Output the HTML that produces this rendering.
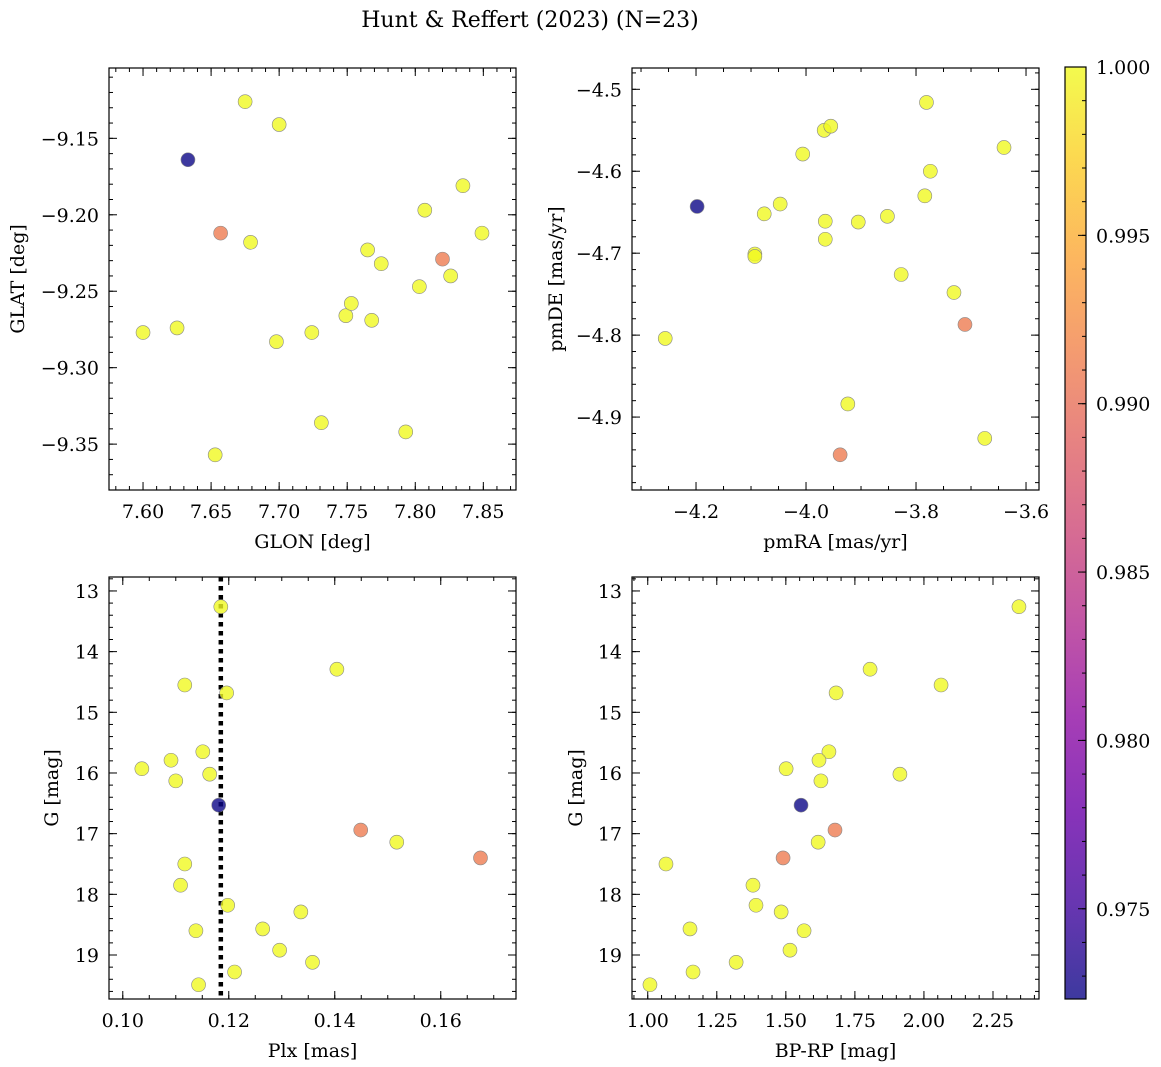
<!DOCTYPE html>
<html><head><meta charset="utf-8"><style>
body{margin:0;background:#fff;}
svg{display:block;font-family:"DejaVu Serif","Liberation Serif",serif;}
</style></head><body>
<svg id="fig" width="1161" height="1067" viewBox="0 0 1161 1067" xmlns="http://www.w3.org/2000/svg">
<defs>
<linearGradient id="plasma" x1="0" y1="1" x2="0" y2="0">
<stop offset="0" stop-color="#0d0887"/><stop offset="0.1" stop-color="#41049d"/><stop offset="0.2" stop-color="#6a00a8"/><stop offset="0.3" stop-color="#8f0da4"/><stop offset="0.4" stop-color="#b12a90"/><stop offset="0.5" stop-color="#cc4778"/><stop offset="0.6" stop-color="#e16462"/><stop offset="0.7" stop-color="#f2844b"/><stop offset="0.8" stop-color="#fca636"/><stop offset="0.9" stop-color="#fcce25"/><stop offset="1" stop-color="#f0f921"/>
</linearGradient>
</defs>
<text x="530" y="27" font-size="22" text-anchor="middle">Hunt &amp; Reffert (2023) (N=23)</text>
</svg>
<script>
const prob=[0.9723,1,1,0.991,1,1,1,1,1,1,1,1,1,1,1,1,1,1,1,0.991,1,1,1];
const glon=[7.633,7.675,7.700,7.657,7.679,7.600,7.625,7.698,7.724,7.731,7.653,7.749,7.753,7.765,7.768,7.775,7.793,7.803,7.807,7.820,7.826,7.835,7.849];
const glat=[-9.164,-9.126,-9.141,-9.212,-9.218,-9.277,-9.274,-9.283,-9.277,-9.336,-9.357,-9.266,-9.258,-9.223,-9.269,-9.232,-9.342,-9.247,-9.197,-9.229,-9.240,-9.181,-9.212];
const prob2=[0.9723,1,1,1,1,1,1,1,1,1,1,1,1,1,1,1,1,1,1,1,1,0.991,0.991];
const pmra=[-4.198,-3.781,-3.967,-3.955,-4.006,-3.640,-3.774,-4.047,-4.076,-3.784,-3.852,-3.965,-3.905,-3.965,-4.093,-4.093,-3.827,-3.731,-4.256,-3.924,-3.675,-3.711,-3.938];
const pmde=[-4.643,-4.516,-4.550,-4.545,-4.579,-4.571,-4.600,-4.640,-4.652,-4.630,-4.655,-4.661,-4.662,-4.683,-4.701,-4.704,-4.726,-4.748,-4.804,-4.884,-4.926,-4.787,-4.946];
const prob3=[1,1,1,1,1,1,1,1,1,0.9723,0.991,1,0.991,1,1,1,1,1,1,1,1,1,1];
const plx=[0.1185,0.1404,0.1117,0.1196,0.1151,0.1091,0.1036,0.1100,0.1164,0.1181,0.1449,0.1517,0.1675,0.1117,0.1109,0.1198,0.1336,0.1264,0.1138,0.1296,0.1358,0.1211,0.1143];
const gmag=[13.26,14.29,14.55,14.68,15.65,15.79,15.93,16.13,16.02,16.53,16.94,17.14,17.40,17.50,17.85,18.18,18.29,18.57,18.60,18.92,19.12,19.28,19.49];
const bprp=[2.344,1.805,2.062,1.682,1.656,1.620,1.501,1.627,1.913,1.555,1.678,1.617,1.490,1.066,1.381,1.392,1.483,1.153,1.566,1.515,1.320,1.164,1.008];
const plxLine=[0.1185];
const cbTicks=[0.975,0.980,0.985,0.990,0.995,1.000];
const cmin=0.97232,cmax=1.0;
const stops=[[13,8,135],[65,4,157],[106,0,168],[143,13,164],[177,42,144],[204,71,120],[225,100,98],[242,132,75],[252,166,54],[252,206,37],[240,249,33]];
function cmap(v){let t=Math.max(0,Math.min(1,(v-cmin)/(cmax-cmin)))*10;let i=Math.min(9,Math.floor(t)),f=t-i;const a=stops[i],b=stops[i+1];return 'rgb('+a.map((c,k)=>Math.round(c+(b[k]-c)*f)).join(',')+')';}
const svg=document.getElementById('fig');const NS='http://www.w3.org/2000/svg';
function mk(tag,attrs,parent){const e=document.createElementNS(NS,tag);for(const k in attrs)e.setAttribute(k,attrs[k]);(parent||svg).appendChild(e);return e;}
function fmt(v,d){let s=v.toFixed(d);if(v<0)s='\u2212'+s.slice(1);return s;}
const FS=19;
function panel(o){
 const g=mk('g',{});
 
 
 const X=v=>o.x0+(v-o.xr[0])/(o.xr[1]-o.xr[0])*(o.x1-o.x0);
 const Y=v=>o.inv? o.y0+(v-o.yr[0])/(o.yr[1]-o.yr[0])*(o.y1-o.y0) : o.y1-(v-o.yr[0])/(o.yr[1]-o.yr[0])*(o.y1-o.y0);
 const tg=mk('g',{stroke:'#000','stroke-width':1},g);
 function ticks(lo,hi,step){const out=[];let s=Math.ceil(lo/step-1e-6);for(let k=s;k*step<=hi+1e-9;k++)out.push(k*step);return out;}
 const xlo=Math.min(...o.xr),xhi=Math.max(...o.xr),ylo=Math.min(...o.yr),yhi=Math.max(...o.yr);
 ticks(xlo,xhi,o.xmin).forEach(v=>{const x=X(v);mk('line',{x1:x,x2:x,y1:o.y1,y2:o.y1-4},tg);mk('line',{x1:x,x2:x,y1:o.y0,y2:o.y0+4},tg);});
 ticks(ylo,yhi,o.ymin).forEach(v=>{const y=Y(v);mk('line',{x1:o.x0,x2:o.x0+4,y1:y,y2:y},tg);mk('line',{x1:o.x1,x2:o.x1-4,y1:y,y2:y},tg);});
 ticks(xlo,xhi,o.xmaj).forEach(v=>{const x=X(v);mk('line',{x1:x,x2:x,y1:o.y1,y2:o.y1-8},tg);mk('line',{x1:x,x2:x,y1:o.y0,y2:o.y0+8},tg);
  const t=mk('text',{x:x,y:o.y1+28,'font-size':FS,'text-anchor':'middle'},g);t.textContent=fmt(v,o.xd);
  
  });
 ticks(ylo,yhi,o.ymaj).forEach(v=>{const y=Y(v);mk('line',{x1:o.x0,x2:o.x0+8,y1:y,y2:y},tg);mk('line',{x1:o.x1,x2:o.x1-8,y1:y,y2:y},tg);
  const t=mk('text',{x:o.x0-10,y:y+7,'font-size':FS,'text-anchor':'end'},g);t.textContent=fmt(v,o.yd);
  
  });
 if(o.vline){o.vline.forEach(v=>{const l=mk('line',{x1:X(v),x2:X(v),y1:o.y0,y2:o.y1,stroke:'#000','stroke-width':4.5,'stroke-dasharray':'4.5,4.5'},g);
  
  });}
 const pg=mk('g',{},g);
 o.xs.forEach((v,i)=>{const c=mk('circle',{cx:X(v),cy:Y(o.ys[i]),r:7,fill:cmap(o.c[i]),'fill-opacity':0.8,stroke:'#888','stroke-width':0.6},pg);
  
  });
 const fr=mk('rect',{x:o.x0,y:o.y0,width:o.x1-o.x0,height:o.y1-o.y0,fill:'none',stroke:'#000','stroke-width':1.2},g);
 
 
 const xl=mk('text',{x:(o.x0+o.x1)/2,y:o.y1+58,'font-size':19,'text-anchor':'middle'},g);xl.textContent=o.xlab;
 
 
 const cy=(o.y0+o.y1)/2;
 const yl=mk('text',{x:o.ylx,y:cy,'font-size':19,'text-anchor':'middle',transform:'rotate(-90 '+o.ylx+' '+cy+')'},g);yl.textContent=o.ylab;
 
 
}
panel({name:'glon-glat-panel',x0:109,x1:516,y0:68,y1:490,xr:[7.575,7.874],yr:[-9.380,-9.104],xmaj:0.05,xmin:0.01,ymaj:0.05,ymin:0.01,xd:2,yd:2,xs:glon,ys:glat,c:prob,xlab:'GLON [deg]',ylab:'GLAT [deg]',ylx:24});
panel({name:'proper-motion-panel',x0:632,x1:1039,y0:68,y1:490,xr:[-4.3164,-3.5764],yr:[-4.989,-4.474],xmaj:0.2,xmin:0.05,ymaj:0.1,ymin:0.02,xd:1,yd:1,xs:pmra,ys:pmde,c:prob2,xlab:'pmRA [mas/yr]',ylab:'pmDE [mas/yr]',ylx:562});
panel({name:'parallax-g-panel',x0:109,x1:516,y0:577,y1:999,xr:[0.0974,0.1742],yr:[12.77,19.725],inv:true,xmaj:0.02,xmin:0.005,ymaj:1,ymin:0.2,xd:2,yd:0,xs:plx,ys:gmag,c:prob3,vline:plxLine,xlab:'Plx [mas]',ylab:'G [mag]',ylx:58});
panel({name:'cmd-panel',x0:632,x1:1039,y0:577,y1:999,xr:[0.943,2.4166],yr:[12.77,19.725],inv:true,xmaj:0.25,xmin:0.05,ymaj:1,ymin:0.2,xd:2,yd:0,xs:bprp,ys:gmag,c:prob3,xlab:'BP-RP [mag]',ylab:'G [mag]',ylx:582});
const cb=mk('g',{});


mk('rect',{x:1065,y:67,width:21,height:932,fill:'url(#plasma)','fill-opacity':0.8},cb);
const CY=v=>999-(v-cmin)/(cmax-cmin)*932;
for(let k=973;k<=1000;k++){const y=CY(k/1000);mk('line',{x1:1086,x2:1082,y1:y,y2:y,stroke:'#000'},cb);}
cbTicks.forEach(v=>{const y=CY(v);mk('line',{x1:1086,x2:1078,y1:y,y2:y,stroke:'#000'},cb);
 const t=mk('text',{x:1096,y:y+7,'font-size':FS},cb);t.textContent=v.toFixed(3);
 
 });
mk('rect',{x:1065,y:67,width:21,height:932,fill:'none',stroke:'#000','stroke-width':1.2},cb);
</script>
</body></html>
